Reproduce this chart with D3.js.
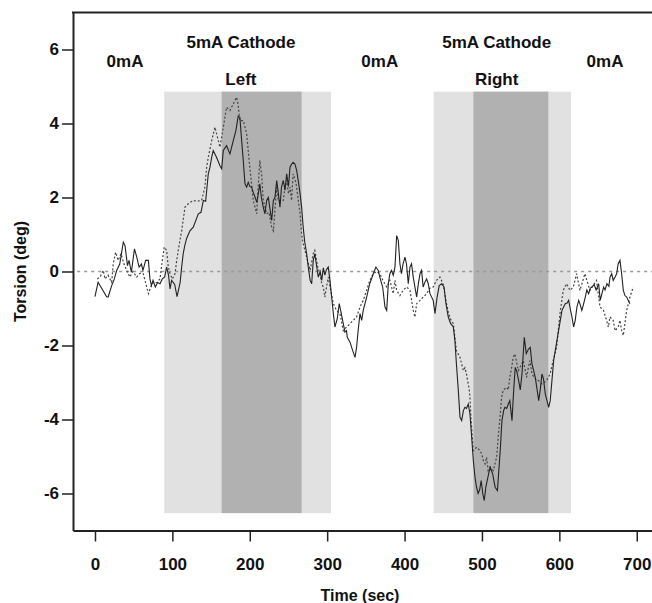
<!DOCTYPE html>
<html><head><meta charset="utf-8">
<script src="https://cdn.jsdelivr.net/npm/d3@7"></script>
<style>
html,body{margin:0;padding:0;background:#fff;}
svg{display:block;}
text{font-family:"Liberation Sans",Arial,Helvetica,sans-serif;font-weight:bold;fill:#111;}
</style></head>
<body>
<svg id="chart" width="652" height="603"></svg>
<script>
// ---- data ----
const xTicks = [0, 100, 200, 300, 400, 500, 600, 700];
const yTicks = [-6, -4, -2, 0, 2, 4, 6];

const solidTime = [0,4,6.5,10,15,17,21.6,25,28,32,36.6,38.8,42,44,47,51,54,57,60,62,65.5,69,71,73,75,78,81,84,87,90,92.6,95,97,99,103,106,110,112,114,116,118.5,122.7,127,133.5,137,140,143,146.4,148.6,150.8,152.8,157,161.5,163.7,165.8,170,174.4,178.7,182,185,187.2,189.5,191.6,193.8,196,198,200,202.4,204.5,207,209,211,213,215,217.4,219.6,221.8,224,226,228.3,230.5,232.5,234.8,237,239,241,243.3,245.5,247.7,250,252,254,256,258.5,260.6,263,265,267,269,271,273.5,275.6,278,280,282,284,286,288.5,291,293,295,297,299,301.4,303.6,305.8,308,310,313,315.6,317.4,320.8,323,325,326,329.5,333,336,338,340,342.4,344.6,346.6,351,355,359.6,363,366,368,371.7,374.7,376.9,379,381,383,385.4,387.6,389.8,391.9,394,396,398,400.5,402.5,404.8,407,409,411.2,413.4,415.6,418,420,422,424,426,428.5,430.6,432.8,437,439.3,442,444.8,447.9,451,453.5,456.5,459.6,463,465,467,469.4,471.6,473.8,476,478,480,482.3,484.5,486.7,488.8,491,493,495,497,499,501,503,505,508.6,510.7,513.8,517,520,523.6,525.8,528,529.7,532,534,536,538.8,541,543,545,547.4,549.5,551.7,554.7,557.2,560,562.4,564.6,568.9,573.3,575.3,577.5,579.5,581.8,586.2,588.2,590.4,592.6,594.7,599,603.4,607.6,610,612,614,616.3,618.4,620.5,622.7,625,627,629,631,633.5,635.5,637.8,640,642,645,647.5,650.8,652.8,655,657.2,659,661.5,664,665.5,667.6,669.6,672,674,676,678.3,680.5,682.6,684.8,687,689,691.2];
const solidTorsion = [-0.68,-0.29,-0.38,-0.5,-0.68,-0.69,-0.38,-0.2,0.03,0.2,0.79,0.7,0.16,0.3,-0.02,0.61,0.39,0.12,0.2,0.03,0.3,0.3,-0.2,-0.38,-0.24,-0.42,-0.3,-0.33,-0.2,-0.15,0.12,-0.1,-0.47,-0.24,-0.35,-0.68,-0.3,0.12,0.48,0.7,0.9,1.1,1.2,1.56,1.6,1.92,1.9,2.64,2.82,3.09,3.27,3.09,2.86,2.78,3.27,3.4,3.18,3.54,3.8,4.2,4.17,3.54,3.0,2.37,2.28,2.41,2.3,2.28,2.14,2.0,1.87,2.1,2.37,2.0,1.74,1.56,1.92,2.0,1.7,1.38,1.92,2.0,2.46,2.1,1.74,2.28,2.46,2.2,2.64,2.3,2.82,2.9,2.95,2.9,2.73,2.4,2.1,1.74,1.2,0.8,0.48,0.12,-0.24,-0.33,0.3,0.48,0.2,-0.15,0.0,-0.24,0.1,-0.1,0.05,0.12,-0.24,-0.69,-1.14,-1.5,-1.28,-0.87,-1.05,-1.41,-1.64,-1.6,-1.78,-1.91,-2.14,-2.32,-2.05,-1.6,-1.14,-1.32,-1.05,-0.69,-0.33,-0.06,0.12,0.03,-0.15,-0.42,-0.96,-1.05,-0.33,-0.06,0.03,-0.1,0.12,0.97,0.84,0.21,-0.06,0.2,0.39,0.2,-0.33,0.12,0.21,-0.15,-0.42,-0.69,-0.3,-0.06,0.03,-0.42,-0.3,-0.2,-0.33,-0.6,-0.78,-1.14,-0.7,-0.38,-0.33,-0.42,-0.87,-1.23,-1.41,-1.5,-1.86,-2.5,-3.2,-3.94,-4.03,-3.76,-3.67,-3.7,-3.58,-3.85,-4.48,-5.1,-5.56,-5.83,-6.0,-5.9,-5.65,-6.0,-6.19,-5.83,-5.47,-5.29,-5.47,-5.83,-5.92,-4.84,-4.03,-3.76,-3.67,-3.7,-3.58,-3.49,-4.03,-3.2,-2.59,-2.7,-2.95,-3.2,-2.77,-1.78,-2.22,-2.1,-2.05,-2.5,-2.86,-3.49,-3.2,-2.77,-2.9,-3.31,-3.67,-3.49,-2.95,-2.41,-2.14,-1.6,-1.05,-0.87,-0.85,-0.78,-1.0,-1.23,-1.5,-1.32,-0.96,-0.78,-0.9,-1.05,-0.9,-0.69,-0.5,-0.6,-0.45,-0.42,-0.35,-0.5,-0.33,-0.78,-0.6,-0.42,-0.5,-0.33,-0.4,-0.15,-0.06,-0.24,-0.15,-0.06,0.21,0.3,-0.06,-0.51,-0.65,-0.69,-0.78,-0.87];

const dottedTime = [3,6.5,10.7,13,16.8,21.6,23.6,26.7,30,33.6,37.5,41,45,49,54,58,62.4,64.6,66.8,69,72.4,75.3,80,84,87,89.5,92.6,94.7,97,100,103.4,105.6,107.6,109.8,112,116.3,120.5,127,131.8,137.8,142,144.3,146.4,150.8,155,157.2,161.5,165.8,170,174.4,178.7,183,185,187.2,191.6,196,198,200,204.5,209,210.6,213,215.4,217.4,221.8,224.8,228.3,230.5,234.8,237,239,243.3,245.5,247.7,250,252,254,256,259.7,262.7,265,267,269,273.5,278,282,284,288,290.7,293,295,297,301.4,303.6,308,312,316.5,320.8,325,329.5,333.7,338,342.4,346.6,351,355,359.6,364,368,372,377,381,385.4,387.6,389.8,394,398.3,402.8,407,411.2,413.4,415.6,420,424,428.5,432.8,437,441.2,445.7,450,453.5,456.5,459.6,463,467,471.6,473.8,476,478,480,483.6,484.5,485.8,487.5,488.8,493.2,497.4,499.6,501.7,504,506,508,510.3,514.6,516.8,519,521,523.3,525.4,527.5,532,534,536,538.4,540.4,542.6,547,549,553.4,557.7,560,562,564.6,570.7,573.3,577.5,583.6,588,592,596.5,600.8,605,609.3,613.7,618,622.3,626.6,633,639.5,648,652.5,657,661,663.3,665.4,669.6,672,676,678.3,680.5,682.6,687,691.2,695.5];
const dottedTorsion = [-0.2,-0.15,0.03,-0.2,-0.1,-0.29,0.21,0.52,0.3,0.48,0.2,0.03,-0.15,0.0,-0.15,-0.05,-0.06,-0.24,-0.42,-0.6,-0.4,-0.29,-0.3,-0.2,0.3,0.66,0.57,0.12,-0.06,-0.2,-0.06,0.3,0.57,0.84,1.1,1.74,1.83,1.92,1.9,1.92,2.28,2.82,3.09,3.54,3.9,3.72,3.36,3.9,4.44,4.35,4.53,4.71,4.5,4.08,4.08,3.72,3.27,2.82,1.92,1.56,2.2,3.0,2.6,1.92,1.56,1.6,1.2,1.1,2.28,1.9,1.92,1.92,2.28,2.46,2.1,2.28,1.92,2.64,2.4,1.92,1.56,1.02,0.75,0.39,0.03,0.48,0.57,0.1,-0.06,-0.33,-0.42,-0.69,-0.15,-0.4,-0.87,-1.05,-1.14,-1.6,-1.5,-1.41,-1.32,-1.23,-0.96,-0.78,-0.51,-0.24,-0.06,0.0,-0.06,-0.24,-0.42,-0.24,-0.6,-0.24,-0.51,-0.65,-0.5,-0.42,-0.51,-1.05,-1.23,-0.87,-0.78,-0.69,-0.6,-0.45,-0.42,-0.24,-0.15,-0.35,-0.8,-1.1,-1.3,-1.41,-2.14,-2.32,-2.5,-2.68,-2.6,-2.77,-3.2,-3.4,-3.94,-4.48,-4.84,-4.75,-4.84,-4.93,-5.1,-5.2,-5.02,-5.38,-5.29,-5.38,-5.2,-5.02,-4.48,-3.94,-3.4,-3.2,-3.13,-3.2,-2.86,-2.59,-2.32,-2.23,-2.68,-2.59,-2.41,-2.86,-2.59,-2.41,-2.77,-2.95,-2.95,-3.04,-2.95,-2.77,-2.41,-2.05,-1.14,-0.51,-0.33,-0.51,-0.42,-0.06,-0.51,-0.06,-0.51,-0.24,-0.96,-1.05,-1.32,-1.5,-1.23,-1.32,-1.6,-1.5,-1.32,-1.6,-1.73,-1.05,-0.69,-0.42];

// stimulation periods (sec)
const lightStart = [89.5, 437.5];
const lightEnd   = [305, 615];
const darkStart  = [163.7, 489];
const darkEnd    = [267, 585.7];
const shadeTop = 4.86;
const shadeBottom = -6.53;

const labelText = ["0mA", "5mA Cathode", "Left", "0mA", "5mA Cathode", "Right", "0mA"];
const labelTime = [38.8, 188.6, 188.6, 368, 519, 519, 659];
const labelLevel = [5.54, 6.05, 5.05, 5.54, 6.05, 5.05, 5.54];

// ---- layout ----
const svg = d3.select("#chart");
const x = d3.scaleLinear().domain([-28.4, 725]).range([73, 656.1]);
const y = d3.scaleLinear().domain([-7, 7]).range([530.5, 12.5]);

// shading
const g = svg.append("g");
lightStart.forEach((s, i) => {
  g.append("rect").attr("x", x(s)).attr("y", y(shadeTop))
    .attr("width", x(lightEnd[i]) - x(s)).attr("height", y(shadeBottom) - y(shadeTop))
    .attr("fill", "#e1e1e1");
});
darkStart.forEach((s, i) => {
  g.append("rect").attr("x", x(s)).attr("y", y(shadeTop))
    .attr("width", x(darkEnd[i]) - x(s)).attr("height", y(shadeBottom) - y(shadeTop))
    .attr("fill", "#b1b1b1");
});

// zero line
svg.append("line").attr("x1", x(-23)).attr("x2", x(725)).attr("y1", y(0)).attr("y2", y(0))
  .attr("stroke", "#999").attr("stroke-width", 1.5).attr("stroke-dasharray", "3,4");

// traces
const line = d3.line().x(d => x(d[0])).y(d => y(d[1]));
const solid = solidTime.map((t, i) => [t, solidTorsion[i]]);
const dotted = dottedTime.map((t, i) => [t, dottedTorsion[i]]);
svg.append("path").datum(dotted).attr("d", line).attr("fill", "none")
  .attr("stroke", "#444").attr("stroke-width", 1.2).attr("stroke-dasharray", "2,2");
svg.append("path").datum(solid).attr("d", line).attr("fill", "none")
  .attr("stroke", "#222").attr("stroke-width", 1.1);

// axes
const xAxis = svg.append("g").attr("transform", `translate(0,${y(-7)})`)
  .call(d3.axisBottom(x).tickValues(xTicks).tickSize(11).tickSizeOuter(0).tickPadding(16).tickFormat(d => String(d)));
const yAxis = svg.append("g").attr("transform", `translate(${x(-28.4)},0)`)
  .call(d3.axisLeft(y).tickValues(yTicks).tickSize(11).tickSizeOuter(0).tickPadding(3).tickFormat(d => String(d)));
[xAxis, yAxis].forEach(a => {
  a.select(".domain").attr("stroke", "#222").attr("stroke-width", 2);
  a.selectAll(".tick line").attr("stroke", "#222").attr("stroke-width", 1.5);
  a.selectAll(".tick text").attr("font-size", 17).attr("font-weight", "bold")
    .attr("font-family", "'Liberation Sans', Arial, sans-serif").attr("fill", "#111");
});
// top frame line
svg.append("line").attr("x1", x(-28.4) - 1).attr("x2", x(725)).attr("y1", y(7)).attr("y2", y(7))
  .attr("stroke", "#222").attr("stroke-width", 2);

// axis titles
svg.append("text").attr("x", 360).attr("y", 601).attr("text-anchor", "middle")
  .attr("font-size", 16).text("Time (sec)");
svg.append("text").attr("transform", `translate(26,${y(0)}) rotate(-90)`).attr("text-anchor", "middle")
  .attr("font-size", 16).text("Torsion (deg)");

// annotations
labelText.forEach((t, i) => {
  svg.append("text").attr("x", x(labelTime[i])).attr("y", y(labelLevel[i]))
    .attr("text-anchor", "middle").attr("font-size", 17).text(t);
});
</script>
</body></html>
